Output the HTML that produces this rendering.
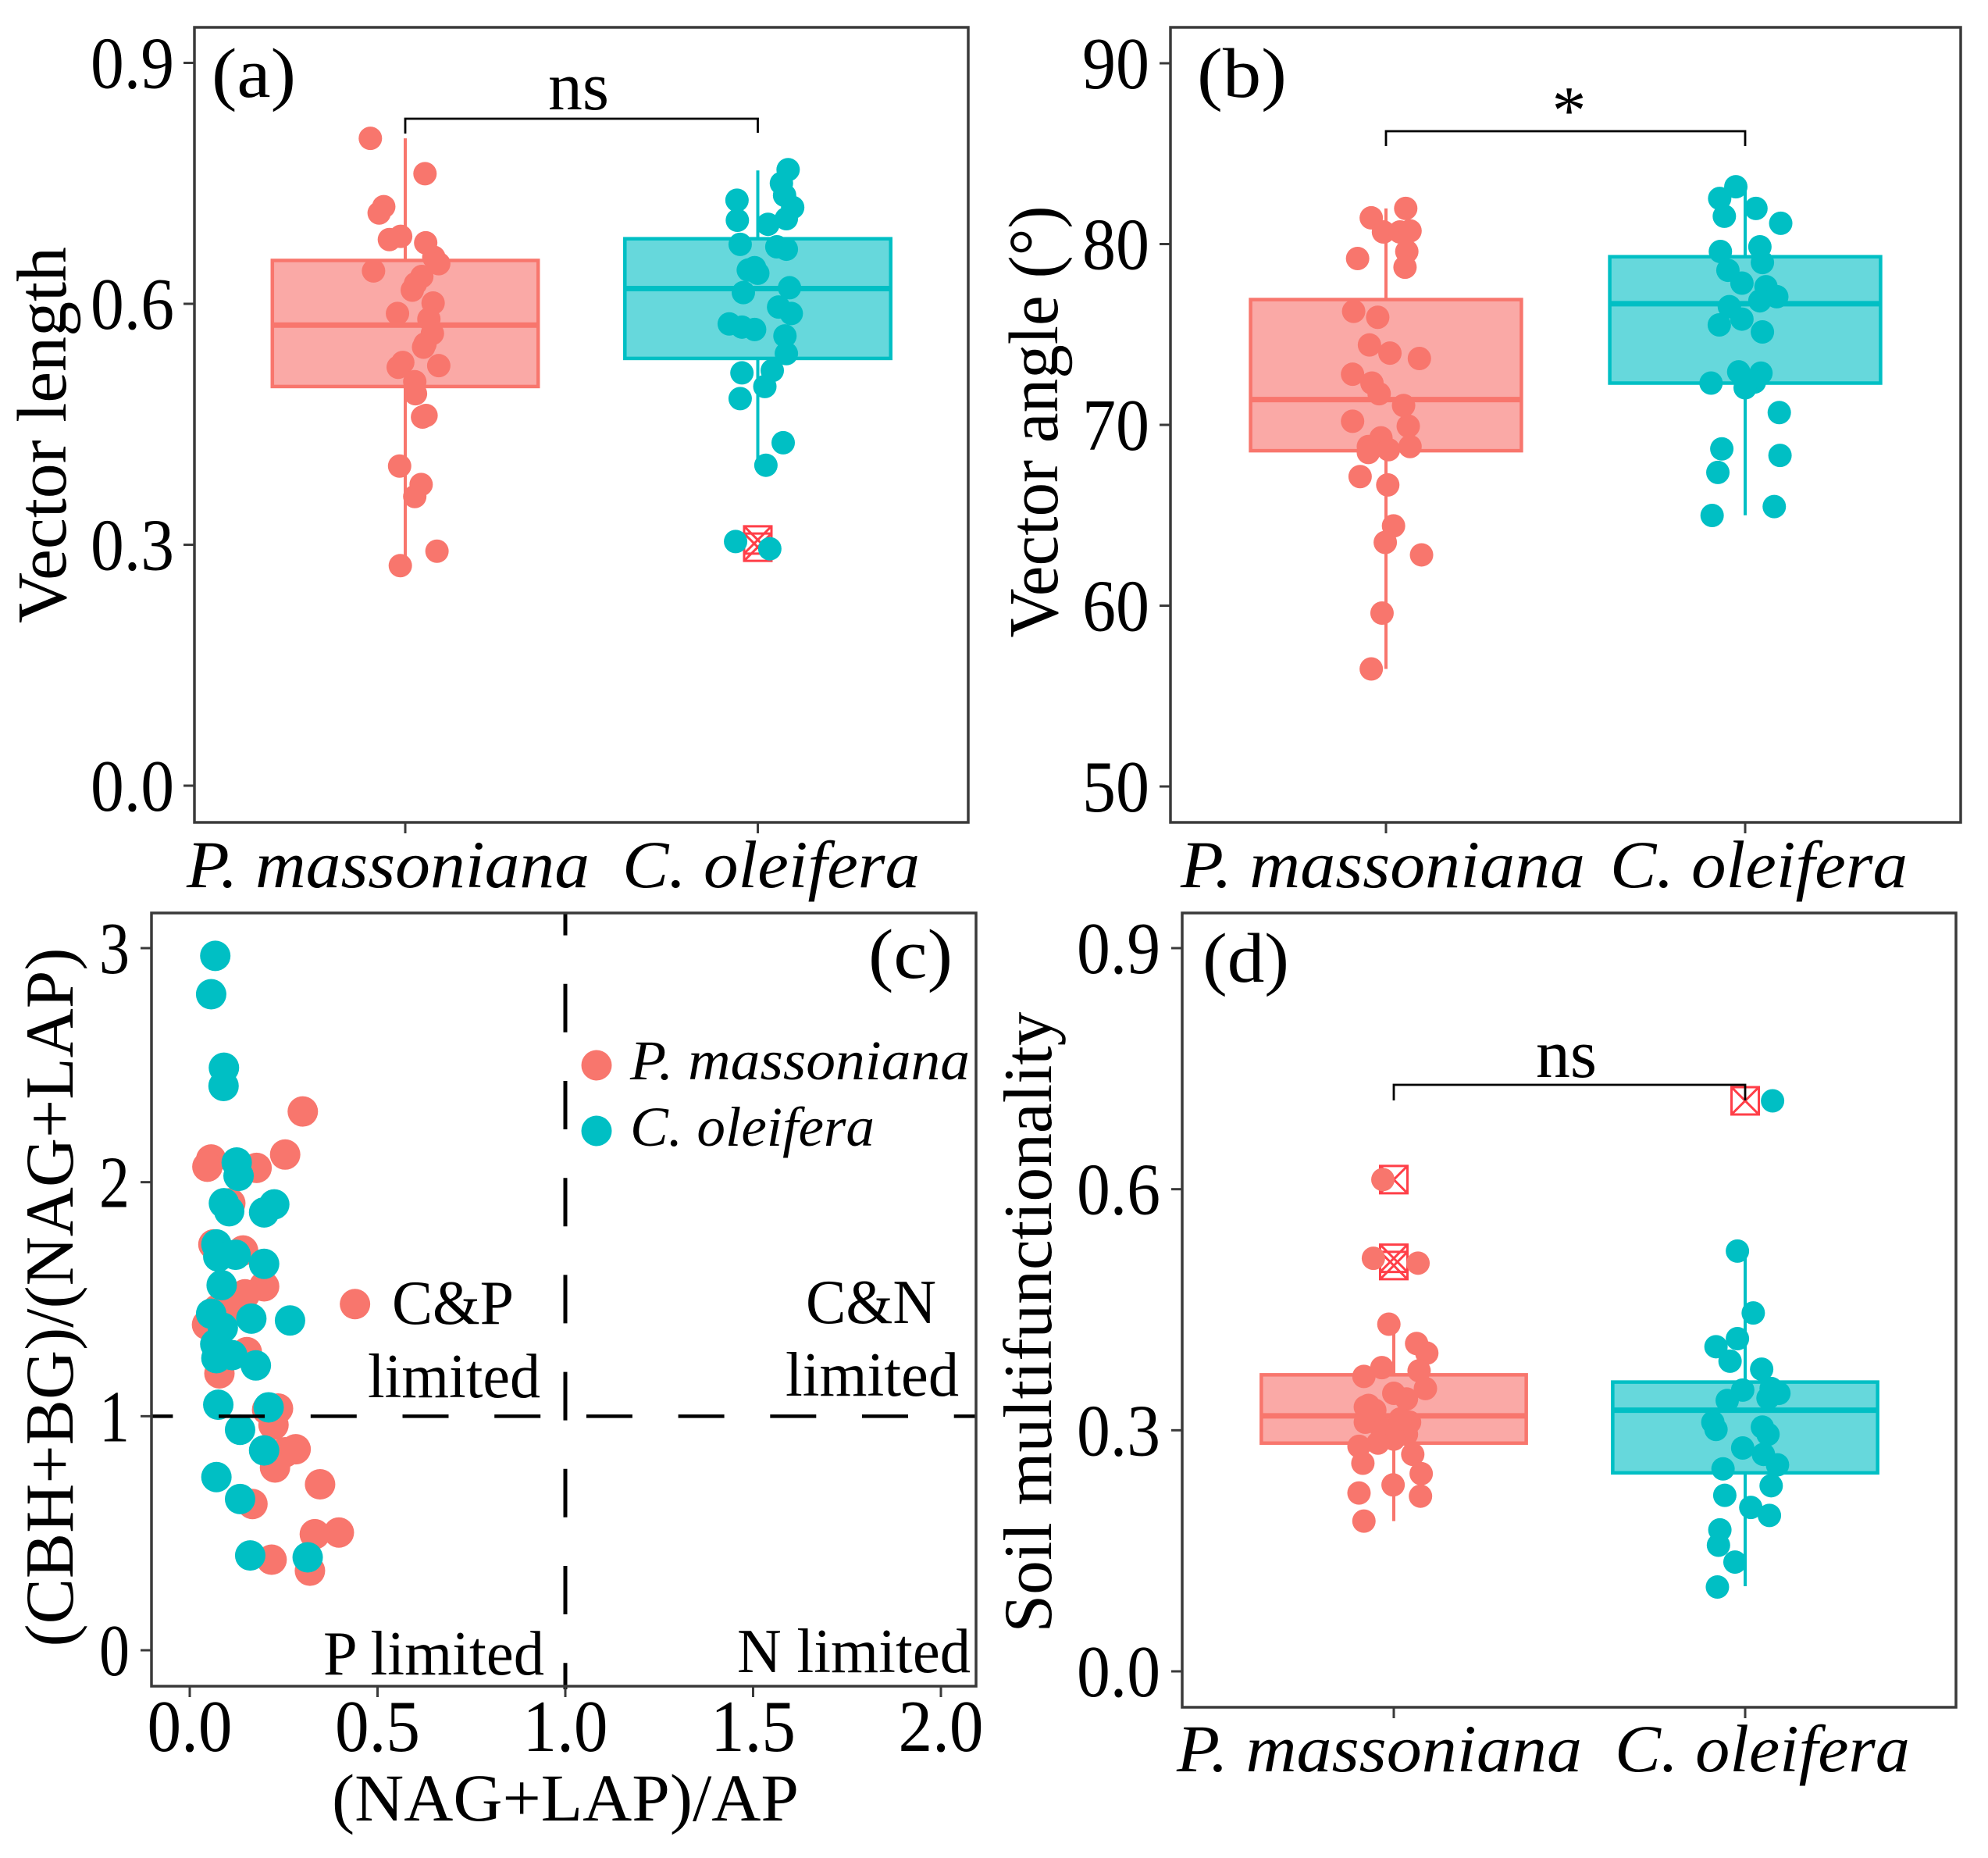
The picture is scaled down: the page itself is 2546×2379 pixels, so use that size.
<!DOCTYPE html>
<html lang="en">
<head>
<meta charset="utf-8">
<title>Vector and soil multifunctionality panels</title>
<style>
html,body{margin:0;padding:0;background:#fff;}
svg{display:block;}
text{font-family:"Liberation Serif",serif;fill:#000;}
.it{font-style:italic;}
</style>
</head>
<body>
<svg id="fig" xmlns="http://www.w3.org/2000/svg" width="2546" height="2379" viewBox="0 0 2546 2379">
<rect width="2546" height="2379" fill="#fff"/>
<g id="marks"></g>

<g>
<text x="271" y="124" font-size="90" textLength="108" lengthAdjust="spacingAndGlyphs">(a)</text>
<text x="702" y="140" font-size="88" textLength="78" lengthAdjust="spacingAndGlyphs">ns</text>
<text transform="translate(84,557) rotate(-90)" text-anchor="middle" font-size="90" textLength="482" lengthAdjust="spacingAndGlyphs">Vector length</text>
<text class="it" x="239" y="1136" font-size="86" textLength="516" lengthAdjust="spacingAndGlyphs">P. massoniana</text>
<text class="it" x="797" y="1136" font-size="86" textLength="381" lengthAdjust="spacingAndGlyphs">C. oleifera</text>
</g>

<g>
<text x="1533" y="124" font-size="90" textLength="115" lengthAdjust="spacingAndGlyphs">(b)</text>
<text x="2009.5" y="171" font-size="88" text-anchor="middle">*</text>
<text transform="translate(1354,540) rotate(-90)" text-anchor="middle" font-size="90" textLength="553" lengthAdjust="spacingAndGlyphs">Vector angle (°)</text>
<text class="it" x="1512" y="1136" font-size="86" textLength="518" lengthAdjust="spacingAndGlyphs">P. massoniana</text>
<text class="it" x="2062" y="1136" font-size="86" textLength="381" lengthAdjust="spacingAndGlyphs">C. oleifera</text>
</g>

<g>
<text x="1112" y="1252" font-size="90" textLength="108" lengthAdjust="spacingAndGlyphs">(c)</text>
<text transform="translate(93,1661) rotate(-90)" text-anchor="middle" font-size="88" textLength="895" lengthAdjust="spacingAndGlyphs">(CBH+BG)/(NAG+LAP)</text>
<text x="425" y="2331" font-size="86" textLength="598" lengthAdjust="spacingAndGlyphs">(NAG+LAP)/AP</text>
<text x="502" y="1695" font-size="80" textLength="156" lengthAdjust="spacingAndGlyphs">C&amp;P</text>
<text x="471" y="1789" font-size="80" textLength="221" lengthAdjust="spacingAndGlyphs">limited</text>
<text x="1032" y="1694" font-size="80" textLength="167" lengthAdjust="spacingAndGlyphs">C&amp;N</text>
<text x="1006" y="1787" font-size="80" textLength="222" lengthAdjust="spacingAndGlyphs">limited</text>
<text x="414" y="2144" font-size="80" textLength="283" lengthAdjust="spacingAndGlyphs">P limited</text>
<text x="944" y="2141" font-size="80" textLength="299" lengthAdjust="spacingAndGlyphs">N limited</text>
<circle cx="764" cy="1364" r="19.5" fill="#F8766D"/>
<circle cx="764" cy="1448" r="19.5" fill="#00BFC4"/>
<text class="it" x="807" y="1382" font-size="72" textLength="435" lengthAdjust="spacingAndGlyphs">P. massoniana</text>
<text class="it" x="807" y="1467" font-size="72" textLength="313" lengthAdjust="spacingAndGlyphs">C. oleifera</text>
</g>

<g>
<text x="1540" y="1257" font-size="90" textLength="111" lengthAdjust="spacingAndGlyphs">(d)</text>
<text x="1967" y="1379" font-size="88" textLength="78" lengthAdjust="spacingAndGlyphs">ns</text>
<text transform="translate(1346,1693) rotate(-90)" text-anchor="middle" font-size="88" textLength="795" lengthAdjust="spacingAndGlyphs">Soil multifunctionality</text>
<text class="it" x="1507" y="2268" font-size="86" textLength="519" lengthAdjust="spacingAndGlyphs">P. massoniana</text>
<text class="it" x="2068" y="2268" font-size="86" textLength="378" lengthAdjust="spacingAndGlyphs">C. oleifera</text>
</g>
</svg>

<script>
/* Panel a: vector length */
const aTicks = ["0.0","0.3","0.6","0.9"];
const aBoxRed = [0.274,0.497,0.5735,0.654,0.806];
const aBoxBlue = [0.395,0.532,0.619,0.681,0.766];
const aOutliersRed = [];
const aOutliersBlue = [0.306,0.297];
const aRedValues = [0.806,0.762,0.721,0.713,0.684,0.680,0.676,0.658,0.650,0.641,0.634,0.625,0.617,0.601,0.588,0.581,0.563,0.550,0.546,0.527,0.521,0.523,0.503,0.488,0.461,0.459,0.398,0.375,0.360,0.292,0.274];
const aRedJitter = [-0.099,0.056,-0.061,-0.074,-0.013,-0.045,0.058,0.081,0.095,-0.090,0.047,0.029,0.020,0.079,-0.022,0.067,0.077,0.056,0.052,-0.007,-0.020,0.095,0.027,0.029,0.059,0.049,-0.016,0.045,0.027,0.090,-0.014];
const aBlueValues = [0.767,0.750,0.735,0.729,0.720,0.706,0.704,0.699,0.674,0.671,0.668,0.645,0.642,0.638,0.614,0.620,0.596,0.588,0.575,0.571,0.568,0.560,0.538,0.517,0.514,0.497,0.482,0.427,0.399,0.304,0.295];
const aBlueJitter = [0.086,0.067,0.076,-0.059,0.099,0.081,-0.058,0.029,-0.050,0.054,0.081,-0.009,-0.027,0,-0.041,0.090,0.059,0.095,-0.081,-0.045,-0.009,0.077,0.081,0.041,-0.045,0.020,-0.050,0.072,0.023,-0.063,0.034];

/* Panel b: vector angle */
const bTicks = ["50","60","70","80","90"];
const bBoxRed = [56.5,68.57,71.40,76.93,81.97];
const bBoxBlue = [65.0,72.31,76.70,79.30,83.17];
const bOutliersRed = [];
const bOutliersBlue = [];
const bRedValues = [81.97,81.45,80.67,80.67,80.73,79.59,79.20,78.72,76.28,75.95,74.42,73.97,73.67,72.80,72.31,71.72,71.07,69.93,70.20,69.28,68.80,68.47,68.63,68.80,67.14,66.68,64.41,63.50,62.81,59.59,56.50];
const bRedJitter = [0.055,-0.041,-0.007,0.039,0.067,0.058,-0.079,0.053,-0.090,-0.023,-0.046,0.011,0.093,-0.093,-0.039,-0.019,0.049,0.062,-0.093,-0.014,-0.049,-0.049,0.007,0.067,-0.072,0.005,0.021,-0.002,0.099,-0.011,-0.041];
const bBlueValues = [83.17,82.52,81.54,81.97,81.15,79.85,79.59,78.98,78.55,77.84,77.64,77.09,76.86,76.54,75.85,75.53,75.14,72.93,72.86,72.31,72.37,72.05,70.68,68.67,68.31,67.37,65.48,64.99];
const bBlueJitter = [-0.026,-0.071,-0.058,0.030,0.099,0.041,-0.069,0.048,-0.048,-0.009,0.058,0.088,0.041,-0.044,-0.009,-0.072,0.048,-0.018,0.044,-0.095,0.026,0,0.095,-0.065,0.097,-0.076,0.081,-0.092];

/* Panel c: enzyme vector scatter */
const cXTicks = ["0.0","0.5","1.0","1.5","2.0"];
const cYTicks = ["0","1","2","3"];
const cRedX = [0.301,0.254,0.057,0.047,0.178,0.108,0.063,0.142,0.198,0.147,0.113,0.440,0.046,0.074,0.152,0.079,0.235,0.223,0.282,0.254,0.227,0.347,0.167,0.397,0.333,0.218,0.320,0.206];
const cRedY = [2.302,2.118,2.097,2.066,2.061,1.910,1.734,1.708,1.555,1.521,1.469,1.479,1.391,1.456,1.274,1.183,1.033,0.963,0.859,0.846,0.781,0.709,0.625,0.503,0.496,0.387,0.340,1.028];
const cBlueX = [0.068,0.057,0.091,0.090,0.125,0.130,0.091,0.105,0.225,0.198,0.071,0.076,0.122,0.198,0.085,0.057,0.164,0.267,0.088,0.068,0.071,0.113,0.176,0.076,0.210,0.134,0.198,0.071,0.134,0.161,0.314];
const cBlueY = [2.967,2.803,2.489,2.411,2.084,2.027,1.910,1.876,1.905,1.871,1.734,1.682,1.690,1.651,1.560,1.438,1.417,1.409,1.378,1.308,1.248,1.261,1.217,1.049,1.038,0.942,0.854,0.740,0.646,0.405,0.397];
const cThresholdX = [1];
const cThresholdY = [1];

/* Panel d: soil multifunctionality */
const dTicks = ["0.0","0.3","0.6","0.9"];
const dBoxRed = [0.187,0.284,0.318,0.369,0.432];
const dBoxBlue = [0.106,0.247,0.325,0.360,0.523];
const dOutliersRed = [0.612,0.514,0.505];
const dOutliersBlue = [0.710];
const dRedValues = [0.612,0.514,0.508,0.432,0.408,0.396,0.378,0.367,0.374,0.352,0.346,0.331,0.339,0.329,0.310,0.303,0.310,0.295,0.289,0.284,0.280,0.270,0.259,0.246,0.232,0.222,0.218,0.187,0.325,0.314];
const dRedJitter = [-0.031,-0.058,0.069,-0.014,0.065,0.094,-0.034,-0.085,0.072,0.090,0,-0.072,0.036,-0.081,-0.081,-0.036,0.045,0.036,0,-0.045,-0.099,0.054,-0.088,0.078,-0.002,-0.099,0.076,-0.085,-0.054,0.018];
const dBlueValues = [0.710,0.523,0.446,0.414,0.404,0.386,0.376,0.350,0.352,0.346,0.340,0.337,0.310,0.301,0.304,0.295,0.278,0.270,0.257,0.252,0.231,0.219,0.204,0.194,0.176,0.157,0.136,0.105];
const dBlueJitter = [0.078,-0.022,0.023,-0.022,-0.083,-0.043,0.047,-0.007,0.074,0.096,0.065,-0.051,-0.092,-0.083,0.049,0.065,-0.007,0.052,0.092,-0.063,0.074,-0.058,0.016,0.069,-0.072,-0.076,-0.029,-0.079];

const NS = "http://www.w3.org/2000/svg";
const RED = "#F8766D", RED_FILL = "#FAA9A6";
const BLUE = "#00BFC4", BLUE_FILL = "#66D8DC";
const OUTLIER = "#FF3F48";
const AXIS = "#3a3a3a";
const root = document.getElementById("marks");

function make(tag, attrs, parent) {
  const el = document.createElementNS(NS, tag);
  for (const k in attrs) el.setAttribute(k, attrs[k]);
  (parent || root).appendChild(el);
  return el;
}
function linear(d0, d1, r0, r1) {
  return function (v) { return r0 + (v - d0) * (r1 - r0) / (d1 - d0); };
}
function drawFrame(name, f) {
  const el = make("rect", {x: f.left, y: f.top, width: f.right - f.left, height: f.bottom - f.top, fill: "none", stroke: AXIS, "stroke-width": 3.5});
  
  
}
function drawYTicks(name, labels, y, f, labelRight, labelWidth) {
  labels.forEach(function (label) {
    const py = y(parseFloat(label));
    const t = make("line", {x1: f.left - 14, x2: f.left, y1: py, y2: py, stroke: AXIS, "stroke-width": 3});
    
    
    const s = make("text", {x: labelRight, y: py + 32, "text-anchor": "end", "font-size": 94, textLength: labelWidth, lengthAdjust: "spacingAndGlyphs"});
    
    
    s.textContent = label;
  });
}
function drawBox(name, stats, outliers, jitter, values, cat, x, y, halfWidth, stroke, fill, radius) {
  const cx = x(cat);
  const whisker = make("line", {x1: cx, x2: cx, y1: y(stats[0]), y2: y(stats[4]), stroke: stroke, "stroke-width": 4});
  
  
  const box = make("rect", {x: x(cat - halfWidth), y: y(stats[3]), width: x(cat + halfWidth) - x(cat - halfWidth), height: y(stats[1]) - y(stats[3]), fill: fill, stroke: stroke, "stroke-width": 4.5});
  
  
  const med = make("line", {x1: x(cat - halfWidth), x2: x(cat + halfWidth), y1: y(stats[2]), y2: y(stats[2]), stroke: stroke, "stroke-width": 7});
  
  
  outliers.forEach(function (v) {
    const py = y(v), s = 17.5;
    const o = make("path", {d: "M" + (cx - s) + " " + (py - s) + "H" + (cx + s) + "V" + (py + s) + "H" + (cx - s) + "ZL" + (cx + s) + " " + (py + s) + "M" + (cx + s) + " " + (py - s) + "L" + (cx - s) + " " + (py + s), fill: "none", stroke: OUTLIER, "stroke-width": 3});
    
    
  });
  values.forEach(function (v, i) {
    const p = make("circle", {cx: x(cat + jitter[i]), cy: y(v), r: radius, fill: stroke});
    
    
  });
}
function drawXTick(name, px, f) {
  const t = make("line", {x1: px, x2: px, y1: f.bottom, y2: f.bottom + 14, stroke: AXIS, "stroke-width": 3});
  
  
}
function drawBracket(name, x1, x2, top, leftDrop, rightDrop) {
  const b = make("path", {d: "M" + x1 + " " + leftDrop + "V" + top + "H" + x2 + "V" + rightDrop, fill: "none", stroke: "#000", "stroke-width": 2.8});
  
  
}
function drawBoxPanel(cfg) {
  const f = cfg.frame;
  const x = linear(1, 2, cfg.cat1, cfg.cat2);
  const y = linear(cfg.d0, cfg.d1, cfg.r0, cfg.r1);
  drawBox(cfg.name + "-massoniana", cfg.red, cfg.outRed, cfg.redJ, cfg.redV, 1, x, y, 0.377, RED, RED_FILL, 15);
  drawBox(cfg.name + "-oleifera", cfg.blue, cfg.outBlue, cfg.blueJ, cfg.blueV, 2, x, y, 0.377, BLUE, BLUE_FILL, 15);
  drawFrame(cfg.name, f);
  drawYTicks(cfg.name, cfg.ticks, y, f, cfg.labelRight, cfg.labelWidth);
  drawXTick(cfg.name, x(1), f);
  drawXTick(cfg.name, x(2), f);
  if (cfg.bracket) drawBracket(cfg.name, x(1), x(2), cfg.bracket[0], cfg.bracket[1], cfg.bracket[2]);
}

drawBoxPanel({name: "panel-a", frame: {left: 249, right: 1240, top: 35, bottom: 1053}, cat1: 519, cat2: 970.5,
  d0: 0, d1: 0.9, r0: 1006, r1: 80.5, ticks: aTicks, labelRight: 223, labelWidth: 107,
  red: aBoxRed, blue: aBoxBlue, outRed: aOutliersRed, outBlue: aOutliersBlue,
  redV: aRedValues, redJ: aRedJitter, blueV: aBlueValues, blueJ: aBlueJitter, bracket: [152, 171, 170]});

drawBoxPanel({name: "panel-b", frame: {left: 1499, right: 2511, top: 35, bottom: 1053}, cat1: 1775, cat2: 2235,
  d0: 50, d1: 90, r0: 1007, r1: 81, ticks: bTicks, labelRight: 1472, labelWidth: 86,
  red: bBoxRed, blue: bBoxBlue, outRed: bOutliersRed, outBlue: bOutliersBlue,
  redV: bRedValues, redJ: bRedJitter, blueV: bBlueValues, blueJ: bBlueJitter, bracket: [168, 187, 187]});

drawBoxPanel({name: "panel-d", frame: {left: 1514, right: 2505, top: 1169, bottom: 2186}, cat1: 1785, cat2: 2235,
  d0: 0, d1: 0.9, r0: 2140, r1: 1214, ticks: dTicks, labelRight: 1486, labelWidth: 107,
  red: dBoxRed, blue: dBoxBlue, outRed: dOutliersRed, outBlue: dOutliersBlue,
  redV: dRedValues, redJ: dRedJitter, blueV: dBlueValues, blueJ: dBlueJitter, bracket: [1389, 1409, 1409]});

(function drawPanelC() {
  const f = {left: 194, right: 1250, top: 1169, bottom: 2159};
  const x = linear(0, 2, 243, 1205);
  const y = linear(0, 3, 2113, 1214);
  cRedX.forEach(function (v, i) {
    const p = make("circle", {cx: x(v), cy: y(cRedY[i]), r: 19.5, fill: RED});
    
    
  });
  cBlueX.forEach(function (v, i) {
    const p = make("circle", {cx: x(v), cy: y(cBlueY[i]), r: 19.5, fill: BLUE});
    
    
  });
  const h = make("line", {x1: f.left, x2: f.right, y1: y(cThresholdY[0]), y2: y(cThresholdY[0]), stroke: "#000", "stroke-width": 4.5, "stroke-dasharray": "59 58.7", "stroke-dashoffset": 31.6});
  
  
  const v = make("line", {x1: x(cThresholdX[0]), x2: x(cThresholdX[0]), y1: f.top, y2: f.bottom + 4, stroke: "#000", "stroke-width": 5, "stroke-dasharray": "62 62.2", "stroke-dashoffset": 33.4});
  
  
  drawFrame("panel-c", f);
  drawYTicks("panel-c", cYTicks, y, f, 166, 39);
  cXTicks.forEach(function (label) {
    const px = x(parseFloat(label));
    drawXTick("panel-c", px, f);
    const s = make("text", {x: px, y: 2242, "text-anchor": "middle", "font-size": 94, textLength: 109, lengthAdjust: "spacingAndGlyphs"});
    
    
    s.textContent = label;
  });
})();
</script>
</body>
</html>
